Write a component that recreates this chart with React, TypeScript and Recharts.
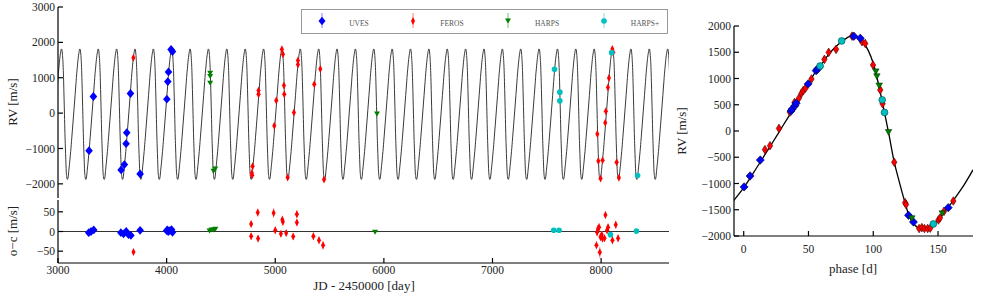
import React from 'react';
import { ComposedChart, Line, Scatter, XAxis, YAxis, ReferenceLine, ErrorBar } from 'recharts';

const FONT = '"Liberation Serif", "DejaVu Serif", serif';
const INK = '#222';
const BLUE = '#0000ff';
const RED = '#ff0000';
const GREEN = '#007f00';
const CYAN = '#00bfbf';

// Keplerian model (phase in days, RV in m/s)
const PERIOD = 169.1;
const T0 = 3286;
const PHASE_T = [-8.5, 0, 10, 20, 30, 40, 50, 55, 60, 65, 70, 75, 80, 84, 88, 92, 96, 100, 104, 108, 112, 116, 120, 124, 128, 132, 136, 140, 144, 148, 152, 156, 160, 165, 170, 177];
const PHASE_RV = [-1350, -1080, -700, -310, 90, 490, 900, 1110, 1270, 1440, 1580, 1690, 1780, 1815, 1790, 1700, 1540, 1290, 900, 430, -50, -570, -960, -1320, -1640, -1790, -1860, -1875, -1845, -1750, -1625, -1500, -1385, -1210, -1030, -740];

// RV time series (JD - 2450000)
const UVES_JD = [3286, 3326, 3581, 3611, 3627, 3633, 3667, 3756, 4002, 4011, 4017, 4041, 4054];
const UVES_RV = [-1061, 470, -1606, -1455, -864, -554, 554, -1718, 394, 892, 1164, 1800, 1740];
const FEROS_JD = [3694, 4785, 4788, 4791, 4846, 4846, 4991, 5009, 5061, 5071, 5080, 5083, 5114, 5172, 5209, 5209, 5359, 5415, 5449, 7965, 7974, 7995, 8014, 8038, 8044, 8063, 8072, 8103, 8112, 8143, 8164];
const FEROS_RV = [1568, -1690, -1756, -1502, 638, 535, -357, 357, 1803, 1662, 779, 535, -1822, 19, 1484, 1371, 817, 1249, -1878, -592, -1352, -1850, -1333, -272, 56, 723, 995, 1812, 1718, -1390, -1831];
const HARPS_JD = [4401, 4401, 4401, 4432, 4447, 5937];
const HARPS_RV = [1127, 1033, 845, -1643, -1577, -28];
const HARPSP_JD = [7571, 7620, 7620, 8097, 8336];
const HARPSP_RV = [1239, 592, 347, 1709, -1765];

// residuals o-c
const UVES_RJD = [3283, 3304, 3329, 3579, 3604, 3628, 3649, 3671, 3756, 4000, 4008, 4015, 4030, 4045, 4054];
const UVES_RES = [-3, 0, 4, -3, -6, 0, -8, -10, 3, 2, 4, 0, 2, 5, -2];
const FEROS_RJD = [3695, 4778, 4778, 4839, 4842, 4985, 5000, 5052, 5065, 5070, 5101, 5165, 5199, 5199, 5351, 5403, 5440, 7957, 7963, 7972, 7981, 7988, 7994, 8006, 8012, 8031, 8040, 8055, 8064, 8104, 8135, 8156];
const FEROS_RES = [-52, 19, -12, 48, -18, 47, 3, -6, 30, 25, -4, -13, 44, 23, -12, -22, -35, -35, -2, 7, 11, -53, -14, -8, -18, -17, 42, 3, 11, -22, 17, -17];
const FEROS_ERR = [8, 8, 8, 10, 8, 12, 9, 8, 10, 10, 8, 8, 10, 8, 10, 9, 11, 10, 10, 10, 10, 14, 10, 9, 9, 9, 9, 9, 9, 10, 10, 9];
const HARPS_RJD = [4395, 4413, 4434, 4449, 5919];
const HARPS_RES = [1, 4, 4, 6, -2];
const HARPSP_RJD = [7564, 7613, 8086, 8325];
const HARPSP_RES = [3, 3, -8, 1];

// phase-folded points
const UVES_PH = [0.3, 4.9, 12.8, 36.5, 37.4, 39.5, 40.5, 49.7, 55.9, 57, 85, 90, 127.2, 131, 157.9];
const UVES_PRV = [-1065, -857, -553, 380, 417, 480, 530, 897, 1150, 1180, 1805, 1766, -1606, -1733, -1460];
const FEROS_PH = [16.4, 20.3, 27.2, 35.6, 39.2, 42.6, 44.6, 45.9, 47.7, 52.3, 62.3, 65.6, 71.3, 83.6, 91.3, 93.8, 99.8, 105.4, 107.2, 116.2, 124.6, 125.3, 135.4, 137.5, 139.5, 142, 144, 150.3, 151.5, 154.6, 161.8];
const FEROS_PRV = [-355, -280, 50, 360, 543, 625, 720, 770, 815, 991, 1365, 1498, 1555, 1807, 1700, 1668, 1257, 783, 518, -595, -1365, -1400, -1858, -1840, -1858, -1858, -1851, -1695, -1657, -1530, -1334];
const HARPS_PH = [102, 102.8, 104.6, 111.8, 129.8, 153.3];
const HARPS_PRV = [1130, 1036, 859, -27, -1668, -1574];
const HARPSP_PH = [59, 75.6, 106.9, 108.7, 146.4];
const HARPSP_PRV = [1238, 1716, 593, 353, -1771];

const JD_TICKS = [3000, 4000, 5000, 6000, 7000, 8000];
const RV_TICKS = [-2000, -1000, 0, 1000, 2000, 3000];
const RES_TICKS = [-50, 0, 50];
const PH_TICKS = [0, 50, 100, 150];
const PRV_TICKS = [-2000, -1500, -1000, -500, 0, 500, 1000, 1500, 2000];

const pts = (xs: number[], ys: number[], es?: number[]) =>
  xs.map((x, i) => (es ? { x, y: ys[i], e: es[i] } : { x, y: ys[i] }));

const modelPhase = pts(PHASE_T, PHASE_RV);
// same model repeated once per orbital period for the time-series panel
const modelTop: { x: number; y: number }[] = [];
for (let k = -2; k <= 34; k++) {
  PHASE_T.forEach((t, i) => {
    if (t < 0 || t >= PERIOD) return;
    const x = T0 + k * PERIOD + t;
    if (x > 2950 && x < 8700) modelTop.push({ x, y: PHASE_RV[i] });
  });
}

const fmt = (v: number) => (v < 0 ? `\u2212${-v}` : `${v}`);
const tickStyle = { fill: INK, fontSize: 11.5, fontFamily: FONT };

const diamond = (w: number, h: number, fill: string, edge = 'none') => (p: any) => (
  <polygon
    points={`${p.cx},${p.cy - h} ${p.cx + w},${p.cy} ${p.cx},${p.cy + h} ${p.cx - w},${p.cy}`}
    fill={fill}
    stroke={edge}
    strokeWidth={0.6}
  />
);
const triangle = (w: number, h: number, fill: string, edge = 'none') => (p: any) => (
  <polygon
    points={`${p.cx - w},${p.cy - h} ${p.cx + w},${p.cy - h} ${p.cx},${p.cy + h}`}
    fill={fill}
    stroke={edge}
    strokeWidth={0.6}
  />
);
const circle = (r: number, fill: string, edge = 'none') => (p: any) => (
  <circle cx={p.cx} cy={p.cy} r={r} fill={fill} stroke={edge} strokeWidth={0.6} />
);

// four-sided inward-tick frame
function frame(xDomain: number[], xTicks: number[], yDomain: number[], yTicks: number[], yWidth: number, xHeight: number, xLabels: boolean, xMargin: number) {
  return [
    <XAxis key="xb" xAxisId="b" type="number" dataKey="x" domain={xDomain} ticks={xTicks} orientation="bottom"
      height={xHeight} tickSize={-5} tickMargin={xMargin} tick={xLabels ? tickStyle : false} interval={0}
      stroke="#000" strokeWidth={1.2} allowDataOverflow />,
    <XAxis key="xt" xAxisId="t" type="number" dataKey="x" domain={xDomain} ticks={xTicks} orientation="top"
      height={0} tickSize={-5} tick={false} stroke="#000" strokeWidth={1.2} allowDataOverflow />,
    <YAxis key="yl" yAxisId="l" type="number" dataKey="y" domain={yDomain} ticks={yTicks} orientation="left"
      width={yWidth} tickSize={-5} tickMargin={8} tick={tickStyle} tickFormatter={fmt} interval={0}
      stroke="#000" strokeWidth={1.2} allowDataOverflow />,
    <YAxis key="yr" yAxisId="r" type="number" dataKey="y" domain={yDomain} ticks={yTicks} orientation="right"
      width={0} tickSize={-5} tick={false} stroke="#000" strokeWidth={1.2} allowDataOverflow />,
  ];
}

function VLabel({ x, y, text }: { x: number; y: number; text: string }) {
  return (
    <div style={{ position: 'absolute', left: x, top: y, transform: 'translate(-50%, -50%) rotate(-90deg)',
      whiteSpace: 'nowrap', fontFamily: FONT, fontSize: 13, color: INK, lineHeight: 1 }}>{text}</div>
  );
}
function HLabel({ x, y, text }: { x: number; y: number; text: string }) {
  return (
    <div style={{ position: 'absolute', left: x, top: y, transform: 'translate(-50%, -50%)',
      whiteSpace: 'nowrap', fontFamily: FONT, fontSize: 13, color: INK, lineHeight: 1 }}>{text}</div>
  );
}

function LegendBox() {
  const items = [
    { name: 'UVES', mx: 21, tx: 58, m: diamond(3.5, 4.2, BLUE), c: BLUE },
    { name: 'FEROS', mx: 112, tx: 151, m: diamond(2, 4, RED), c: RED },
    { name: 'HARPS', mx: 207, tx: 246, m: triangle(3, 2.5, GREEN), c: GREEN },
    { name: 'HARPS+', mx: 303, tx: 344, m: circle(2.8, CYAN), c: CYAN },
  ];
  return (
    <svg width={368} height={26} style={{ position: 'absolute', left: 301, top: 9 }}>
      <rect x={0.5} y={0.5} width={366} height={24} fill="#fff" stroke="#999" strokeWidth={1} />
      {items.map((it) => (
        <g key={it.name}>
          <line x1={it.mx} x2={it.mx} y1={4} y2={19} stroke={it.c} strokeOpacity={0.5} strokeWidth={1} />
          {it.m({ cx: it.mx, cy: 12 })}
          <text x={it.tx} y={17} textAnchor="middle" fontFamily={FONT} fontSize={7.5} fill="#555">{it.name}</text>
        </g>
      ))}
    </svg>
  );
}

export default function App() {
  return (
    <div style={{ position: 'absolute', left: 0, top: 0, width: 981, height: 300, background: '#fff', overflow: 'hidden' }}>
      <div style={{ position: 'absolute', left: 0, top: 0 }}>
        <ComposedChart width={681} height={200} margin={{ top: 7, right: 12, bottom: 2, left: 0 }}>
          {frame([3000, 8625], JD_TICKS, [-2400, 3000], RV_TICKS, 58, 0, false, 0)}
          <Line xAxisId="b" yAxisId="l" data={modelTop} dataKey="y" type="monotone" stroke="#3a3a3a" strokeWidth={1}
            dot={false} isAnimationActive={false} />
          <Scatter xAxisId="b" yAxisId="l" data={pts(UVES_JD, UVES_RV)} shape={diamond(3.8, 4.4, BLUE)} isAnimationActive={false} />
          <Scatter xAxisId="b" yAxisId="l" data={pts(FEROS_JD, FEROS_RV)} shape={diamond(2, 4, RED)} isAnimationActive={false} />
          <Scatter xAxisId="b" yAxisId="l" data={pts(HARPS_JD, HARPS_RV)} shape={triangle(3, 2.5, GREEN)} isAnimationActive={false} />
          <Scatter xAxisId="b" yAxisId="l" data={pts(HARPSP_JD, HARPSP_RV)} shape={circle(2.8, CYAN)} isAnimationActive={false} />
        </ComposedChart>
      </div>

      <div style={{ position: 'absolute', left: 0, top: 0 }}>
        <ComposedChart width={681} height={300} margin={{ top: 200, right: 12, bottom: 0, left: 0 }}>
          {frame([3000, 8625], JD_TICKS, [-80, 80], RES_TICKS, 58, 37, true, 7.5)}
          <ReferenceLine xAxisId="b" yAxisId="l" y={0} stroke="#333" strokeWidth={1} />
          <Scatter xAxisId="b" yAxisId="l" data={pts(UVES_RJD, UVES_RES)} shape={diamond(3.8, 4.4, BLUE)} isAnimationActive={false} />
          <Scatter xAxisId="b" yAxisId="l" data={pts(FEROS_RJD, FEROS_RES, FEROS_ERR)} shape={diamond(2, 4, RED)} isAnimationActive={false}>
            <ErrorBar dataKey="e" direction="y" width={0} stroke="#ff8080" strokeWidth={1} />
          </Scatter>
          <Scatter xAxisId="b" yAxisId="l" data={pts(HARPS_RJD, HARPS_RES)} shape={triangle(3, 2.5, GREEN)} isAnimationActive={false} />
          <Scatter xAxisId="b" yAxisId="l" data={pts(HARPSP_RJD, HARPSP_RES)} shape={circle(2.8, CYAN)} isAnimationActive={false} />
        </ComposedChart>
      </div>

      <div style={{ position: 'absolute', left: 665, top: 0 }}>
        <ComposedChart width={316} height={300} margin={{ top: 26, right: 8, bottom: 0, left: 0 }}>
          {frame([-7.5, 177], PH_TICKS, [-2000, 2000], PRV_TICKS, 69, 64, true, 14)}
          <Line xAxisId="b" yAxisId="l" data={modelPhase} dataKey="y" type="monotone" stroke="#000" strokeWidth={1.3}
            dot={false} isAnimationActive={false} />
          <Scatter xAxisId="b" yAxisId="l" data={pts(FEROS_PH, FEROS_PRV)} shape={diamond(2.7, 4.3, RED, '#400')} isAnimationActive={false} />
          <Scatter xAxisId="b" yAxisId="l" data={pts(UVES_PH, UVES_PRV)} shape={diamond(4, 4.2, BLUE, '#002')} isAnimationActive={false} />
          <Scatter xAxisId="b" yAxisId="l" data={pts(HARPS_PH, HARPS_PRV)} shape={triangle(3.2, 2.8, GREEN, '#030')} isAnimationActive={false} />
          <Scatter xAxisId="b" yAxisId="l" data={pts(HARPSP_PH, HARPSP_PRV)} shape={circle(3.4, CYAN, '#044')} isAnimationActive={false} />
        </ComposedChart>
      </div>

      <LegendBox />
      <VLabel x={11.5} y={102} text="RV [m/s]" />
      <VLabel x={11.5} y={231} text="o−c [m/s]" />
      <HLabel x={364} y={285} text="JD - 2450000 [day]" />
      <VLabel x={681} y={131} text="RV [m/s]" />
      <HLabel x={853} y={268} text="phase [d]" />
    </div>
  );
}
